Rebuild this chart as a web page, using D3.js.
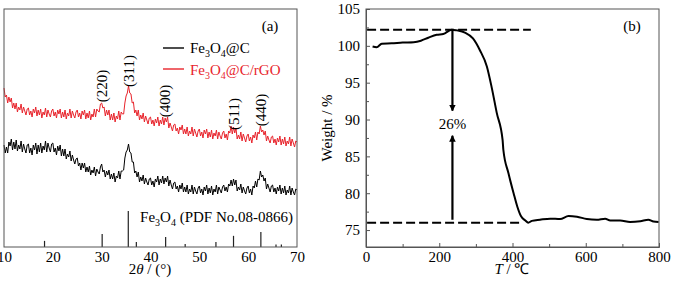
<!DOCTYPE html>
<html>
<head>
<meta charset="utf-8">
<script src="https://cdn.jsdelivr.net/npm/d3@7"></script>
<style>
  body { margin: 0; background: #fff; }
  svg, svg text { font-family: "Times New Roman", "Liberation Serif", serif; }
</style>
</head>
<body>
<svg id="chart" width="676" height="286"></svg>
<script>
// ---- data: XRD (panel a), 2theta sampled every 0.25 deg from 10 to 70 ----
var angleStart = 10, angleStep = 0.25;
var xrdRGO = [
    159,150,152,144,150,145,149,139,144,138,
    144,135,140,137,143,134,140,136,132,138,
    139,132,136,130,138,134,140,131,137,132,
    138,129,135,132,139,130,137,133,130,136,
    138,131,135,129,137,133,138,129,135,130,
    137,128,134,131,138,129,136,132,129,135,
    137,130,134,128,136,132,137,128,134,129,
    136,127,133,130,138,130,138,136,135,143,
    144,139,140,131,137,132,137,127,133,127,
    134,125,131,128,136,127,135,133,133,144,
    151,154,161,154,153,144,145,134,137,131,
    137,127,132,128,134,125,131,127,123,129,
    130,123,127,121,128,124,130,121,127,123,
    130,122,129,125,130,119,124,120,116,122,
    123,116,119,113,120,117,122,113,118,113,
    120,111,116,113,120,111,118,114,110,116,
    118,111,115,109,117,113,118,109,115,110,
    117,108,114,111,117,108,115,111,108,114,
    116,109,113,107,116,114,121,113,120,114,
    119,108,112,108,115,106,113,109,105,111,
    113,106,110,104,112,109,115,107,115,113,
    121,115,117,112,116,106,111,107,104,110,
    111,104,108,102,109,105,111,102,108,103,
    110,101,106,103,110,101,108,104,100,106,
    105];
var xrdC = [
    102,94,100,94,105,101,108,97,105,98,
    107,96,102,98,106,95,103,98,94,102,
    103,94,99,92,102,97,104,93,102,95,
    104,94,101,97,106,95,104,99,95,103,
    104,95,99,92,101,96,102,91,98,91,
    98,88,93,90,96,86,92,87,83,88,
    89,81,84,77,84,79,84,75,80,75,
    81,72,77,74,80,71,78,75,73,80,
    83,75,77,70,76,72,77,68,73,68,
    74,65,71,69,76,68,76,76,77,89,
    95,97,103,95,94,85,85,74,76,70,
    75,65,70,66,72,63,69,65,62,68,
    69,62,66,60,68,65,71,62,68,64,
    71,63,69,65,71,61,67,62,58,64,
    65,58,61,55,62,58,64,55,60,55,
    62,53,58,55,62,53,60,56,53,59,
    61,54,58,52,60,56,62,53,59,54,
    61,52,58,55,62,53,60,57,54,60,
    62,56,60,55,63,61,67,61,68,62,
    67,56,60,57,63,54,60,56,53,59,
    61,54,58,52,61,59,66,60,68,67,
    76,70,72,66,69,58,63,59,55,61,
    62,55,59,53,60,56,62,53,59,54,
    61,52,57,54,61,52,59,55,52,58,
    57];
var pdfAngles = [18.3, 30.1, 35.45, 37.1, 43.1, 47.1, 53.4, 57.0, 62.6, 65.7, 66.8];
var pdfIntensity = [17, 36, 100, 14, 28, 8, 14, 31, 42, 7, 7];
var peakAngles = [30.0, 35.5, 43.0, 57.0, 62.6];
var peakLabels = ["(220)", "(311)", "(400)", "(511)", "(440)"];
var xrdTicks = [10, 20, 30, 40, 50, 60, 70];

// ---- data: TGA (panel b) ----
var tgaTemp = [18, 29, 43, 70, 100, 130, 150, 170, 193, 211, 234, 248, 270, 292, 311, 330, 343, 357, 373, 375, 389, 403, 413, 423, 435, 443, 453, 475, 503, 530, 553, 576, 603, 630, 653, 667, 694, 721, 749, 771, 785, 799];
var tgaWeight = [99.9, 99.8, 100.3, 100.35, 100.45, 100.5, 100.7, 101.1, 101.5, 101.6, 102.2, 102.1, 101.8, 101.0, 99.4, 97.2, 94.4, 90.9, 87.2, 85.9, 82.7, 80.0, 78.2, 76.9, 76.3, 76.0, 76.25, 76.4, 76.55, 76.5, 76.9, 76.8, 76.5, 76.4, 76.55, 76.3, 76.3, 76.1, 76.2, 76.4, 76.15, 76.1];
var tgaTop = 102.2, tgaBottom = 76.0;
var tgaArrowT = 236;
var tgaXTicks = [0, 200, 400, 600, 800];
var tgaYTicks = [75, 80, 85, 90, 95, 100, 105];

var svg = d3.select("#chart");
var red = "#e8242c";
var frame = "#555";
var serif = "Times New Roman, Liberation Serif, serif";

// ================= panel (a) =================
var xA = d3.scaleLinear().domain([10, 70]).range([4, 297]);
var yA = d3.scaleLinear().domain([0, 238]).range([247, 9]);
var yRef = d3.scaleLinear().domain([0, 100]).range([247, 211]);

function toPoints(vals) {
    return vals.map(function(v, i) { return { a: angleStart + i * angleStep, v: v }; });
}
var lineA = d3.line()
    .x(function(d) { return xA(d.a); })
    .y(function(d) { return yA(d.v); });

var gA = svg.append("g");

gA.append("path")
    .datum(toPoints(xrdC))
    .attr("fill", "none")
    .attr("stroke", "#000")
    .attr("stroke-width", 1)
    .attr("d", lineA);

gA.append("path")
    .datum(toPoints(xrdRGO))
    .attr("fill", "none")
    .attr("stroke", red)
    .attr("stroke-width", 1)
    .attr("d", lineA);

// reference sticks
gA.selectAll(".pdf")
    .data(pdfAngles)
    .enter().append("line")
    .attr("x1", function(d) { return xA(d); })
    .attr("x2", function(d) { return xA(d); })
    .attr("y1", yRef(0))
    .attr("y2", function(d, i) { return yRef(pdfIntensity[i]); })
    .attr("stroke", "#222")
    .attr("stroke-width", 1.2);

// frame
gA.append("rect")
    .attr("x", 4).attr("y", 9)
    .attr("width", 293).attr("height", 238)
    .attr("fill", "none").attr("stroke", frame).attr("stroke-width", 1);

var axA = gA.append("g")
    .attr("transform", "translate(0,247)")
    .call(d3.axisBottom(xA).tickValues(xrdTicks).tickSize(0).tickPadding(4));
axA.select(".domain").remove();
axA.selectAll("text").attr("font-size", 15).attr("font-family", serif).attr("fill", "#000");

// peak labels
var peakY = [86, 71, 101, 114, 110];
gA.selectAll(".peak")
    .data(peakAngles)
    .enter().append("text")
    .attr("transform", function(d, i) {
        return "translate(" + (xA(d) + 5) + "," + peakY[i] + ") rotate(-90)";
    })
    .attr("text-anchor", "middle")
    .attr("font-size", 15)
    .text(function(d, i) { return peakLabels[i]; });

gA.append("text").attr("x", 270).attr("y", 31).attr("text-anchor", "middle")
    .attr("font-size", 15).text("(a)");

// legend
function feLabel(sel, x, y, tail, color, anchor) {
    var t = sel.append("text").attr("x", x).attr("y", y).attr("font-size", 15)
        .attr("fill", color).attr("text-anchor", anchor || "start");
    t.append("tspan").text("Fe");
    t.append("tspan").attr("dy", 4).attr("font-size", 10).text("3");
    t.append("tspan").attr("dy", -4).text("O");
    t.append("tspan").attr("dy", 4).attr("font-size", 10).text("4");
    t.append("tspan").attr("dy", -4).text(tail);
    return t;
}
gA.append("line").attr("x1", 163).attr("x2", 184).attr("y1", 48).attr("y2", 48)
    .attr("stroke", "#000").attr("stroke-width", 1.4);
feLabel(gA, 190, 53, "@C", "#000");
gA.append("line").attr("x1", 163).attr("x2", 184).attr("y1", 69).attr("y2", 69)
    .attr("stroke", red).attr("stroke-width", 1.4);
feLabel(gA, 190, 75, "@C/rGO", red);
feLabel(gA, 293, 222, " (PDF No.08-0866)", "#000", "end");

var xtA = gA.append("text").attr("x", 150).attr("y", 274).attr("text-anchor", "middle").attr("font-size", 15);
xtA.append("tspan").text("2");
xtA.append("tspan").attr("font-style", "italic").text("θ");
xtA.append("tspan").text(" / (°)");

// ================= panel (b) =================
var xB = d3.scaleLinear().domain([0, 800]).range([366, 659]);
var yB = d3.scaleLinear().domain([72.7, 105]).range([247, 9]);
var gB = svg.append("g");

var tga = tgaTemp.map(function(t, i) { return { t: t, w: tgaWeight[i] }; });
gB.append("path")
    .datum(tga)
    .attr("fill", "none")
    .attr("stroke", "#000")
    .attr("stroke-width", 2)
    .attr("stroke-linejoin", "round")
    .attr("d", d3.line().curve(d3.curveMonotoneX)
        .x(function(d) { return xB(d.t); })
        .y(function(d) { return yB(d.w); }));

// dashed guide lines
gB.append("line").attr("x1", xB(3)).attr("x2", xB(450))
    .attr("y1", yB(tgaTop)).attr("y2", yB(tgaTop))
    .attr("stroke", "#000").attr("stroke-width", 2).attr("stroke-dasharray", "9,4");
gB.append("line").attr("x1", xB(3)).attr("x2", xB(422))
    .attr("y1", yB(tgaBottom)).attr("y2", yB(tgaBottom))
    .attr("stroke", "#000").attr("stroke-width", 2).attr("stroke-dasharray", "9,4");

// arrows
svg.append("defs").append("marker")
    .attr("id", "arrow").attr("viewBox", "0 0 10 10")
    .attr("refX", 9).attr("refY", 5)
    .attr("markerWidth", 3).attr("markerHeight", 4)
    .attr("orient", "auto")
    .append("path").attr("d", "M0,0 L10,5 L0,10 Z").attr("fill", "#000");

gB.append("line").attr("x1", xB(tgaArrowT)).attr("x2", xB(tgaArrowT))
    .attr("y1", yB(tgaTop)).attr("y2", yB(91.2))
    .attr("stroke", "#000").attr("stroke-width", 2.2).attr("marker-end", "url(#arrow)");
gB.append("line").attr("x1", xB(tgaArrowT)).attr("x2", xB(tgaArrowT))
    .attr("y1", yB(76.4)).attr("y2", yB(87.8))
    .attr("stroke", "#000").attr("stroke-width", 2.2).attr("marker-end", "url(#arrow)");
gB.append("text").attr("x", xB(tgaArrowT)).attr("y", 129).attr("text-anchor", "middle")
    .attr("font-size", 15).text("26%");

gB.append("rect")
    .attr("x", 366).attr("y", 9)
    .attr("width", 293).attr("height", 238)
    .attr("fill", "none").attr("stroke", frame).attr("stroke-width", 1);

// axes with inward ticks
gB.append("g").attr("transform", "translate(0,247)")
    .call(d3.axisBottom(xB).tickValues(tgaXTicks).tickSize(-4).tickPadding(4));
gB.append("g").attr("transform", "translate(0,247)")
    .call(d3.axisBottom(xB).tickValues([100, 300, 500, 700]).tickSize(-3).tickFormat(""))
    .select(".domain").remove();
gB.append("g").attr("transform", "translate(366,0)")
    .call(d3.axisLeft(yB).tickValues(tgaYTicks).tickSize(-4).tickPadding(6));
gB.append("g").attr("transform", "translate(366,0)")
    .call(d3.axisLeft(yB).tickValues([77.5, 82.5, 87.5, 92.5, 97.5, 102.5]).tickSize(-3).tickFormat(""))
    .select(".domain").remove();
gB.selectAll(".domain").attr("stroke", frame);
gB.selectAll(".tick line").attr("stroke", frame);
gB.selectAll(".tick text").attr("font-size", 15).attr("font-family", serif).attr("fill", "#000");

var xtB = gB.append("text").attr("x", 512).attr("y", 274).attr("text-anchor", "middle").attr("font-size", 15);
xtB.append("tspan").attr("font-style", "italic").text("T");
xtB.append("tspan").text(" / ℃");

gB.append("text")
    .attr("transform", "translate(332,128) rotate(-90)")
    .attr("text-anchor", "middle").attr("font-size", 15)
    .text("Weight / %");

gB.append("text").attr("x", 632).attr("y", 31).attr("text-anchor", "middle")
    .attr("font-size", 15).text("(b)");
</script>
</body>
</html>
